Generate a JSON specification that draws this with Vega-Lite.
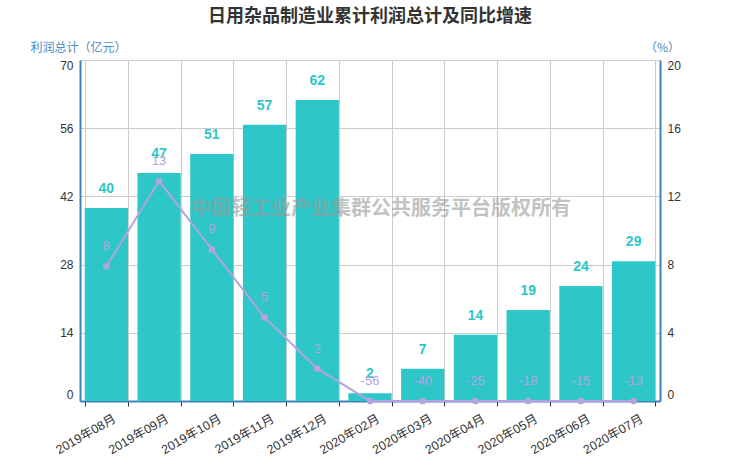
{
  "$schema": "https://vega.github.io/schema/vega-lite/v6.json",
  "width": 580,
  "height": 341,
  "autosize": {"type": "none"},
  "padding": {"left": 80, "top": 60, "right": 80, "bottom": 61},
  "title": {
    "text": "日用杂品制造业累计利润总计及同比增速",
    "fontSize": 18,
    "fontWeight": "bold",
    "color": "#333333",
    "anchor": "middle",
    "offset": 15
  },
  "config": {
    "font": "Noto Sans CJK SC",
    "view": {"stroke": null}
  },
  "data": {
    "values": [
      {"month": "2019年08月", "profit": 39.6, "growth": 7.9},
      {"month": "2019年09月", "profit": 46.8, "growth": 12.9},
      {"month": "2019年10月", "profit": 50.7, "growth": 8.9},
      {"month": "2019年11月", "profit": 56.7, "growth": 4.9},
      {"month": "2019年12月", "profit": 61.8, "growth": 1.9},
      {"month": "2020年02月", "profit": 1.6, "growth": -56.2},
      {"month": "2020年03月", "profit": 6.6, "growth": -40.3},
      {"month": "2020年04月", "profit": 13.6, "growth": -25.1},
      {"month": "2020年05月", "profit": 18.7, "growth": -18.2},
      {"month": "2020年06月", "profit": 23.6, "growth": -15.3},
      {"month": "2020年07月", "profit": 28.7, "growth": -13.4}
    ]
  },
  "encoding": {
    "x": {
      "field": "month",
      "type": "nominal",
      "sort": null,
      "scale": {"paddingInner": 0.18, "paddingOuter": 0.09},
      "axis": {
        "title": null,
        "labelAngle": -30,
        "labelColor": "#333333",
        "labelFont": "Liberation Sans, Noto Sans CJK SC",
        "labelFontSize": 12.5,
        "labelPadding": 6,
        "labelOffset": 5,
        "grid": true,
        "gridColor": "#cccccc",
        "tickBand": "extent",
        "tickColor": "#333333",
        "tickSize": 5,
        "domainColor": "#3D84BF",
        "domainWidth": 2
      }
    }
  },
  "layer": [
    {
      "encoding": {
        "y": {
          "field": "profit",
          "type": "quantitative",
          "scale": {"domain": [0, 70]},
          "axis": {
            "title": "利润总计（亿元）",
            "titleAngle": 0,
            "titleAlign": "center",
            "titleBaseline": "middle",
            "titleX": -2,
            "titleY": -13,
            "titleColor": "#4A8BC2",
            "titleFontWeight": "normal",
            "titleFontSize": 12,
            "values": [0, 14, 28, 42, 56, 70],
            "grid": true,
            "gridColor": "#cccccc",
            "ticks": false,
            "labelFlush": true,
            "labelColor": "#333333",
            "labelFont": "Liberation Sans",
            "labelFontSize": 12,
            "labelPadding": 7,
            "domainColor": "#3D84BF",
            "domainWidth": 2
          }
        }
      },
      "layer": [
        {"mark": {"type": "bar", "color": "#2EC7C9"}},
        {
          "mark": {
            "type": "text",
            "color": "#2EC7C9",
            "fontSize": 14,
            "fontWeight": "bold",
            "font": "Liberation Sans",
            "dy": -19
          },
          "encoding": {"text": {"field": "profit", "type": "quantitative", "format": ".0f"}}
        }
      ]
    },
    {
      "transform": [{"calculate": "'' + round(datum.growth)", "as": "growth_label"}],
      "encoding": {
        "y": {
          "field": "growth",
          "type": "quantitative",
          "scale": {"domain": [0, 20], "clamp": true},
          "axis": {
            "orient": "right",
            "title": "（%）",
            "titleAngle": 0,
            "titleAlign": "center",
            "titleBaseline": "middle",
            "titleX": 2,
            "titleY": -13,
            "titleColor": "#4A8BC2",
            "titleFontWeight": "normal",
            "titleFontSize": 12,
            "values": [0, 4, 8, 12, 16, 20],
            "grid": false,
            "ticks": false,
            "labelFlush": true,
            "labelColor": "#333333",
            "labelFont": "Liberation Sans",
            "labelFontSize": 12,
            "labelPadding": 7,
            "domainColor": "#3D84BF",
            "domainWidth": 2
          }
        }
      },
      "layer": [
        {"mark": {"type": "line", "color": "#B6A2DE", "strokeWidth": 2}},
        {"mark": {"type": "point", "filled": true, "opacity": 1, "color": "#B6A2DE", "size": 45}},
        {
          "mark": {"type": "text", "color": "#B6A2DE", "fontSize": 13, "font": "Liberation Sans", "dy": -20},
          "encoding": {"text": {"field": "growth_label", "type": "nominal"}}
        }
      ]
    },
    {
      "data": {"values": [{"note": "中国轻工业产业集群公共服务平台版权所有"}]},
      "mark": {
        "type": "text",
        "fontSize": 20,
        "fontWeight": "bold",
        "color": "#9a9a9a",
        "opacity": 0.6,
        "dx": 11
      },
      "encoding": {
        "x": {"datum": "2020年02月"},
        "y": {"datum": 39.4, "scale": {"domain": [0, 70]}, "axis": null},
        "text": {"field": "note"}
      }
    }
  ],
  "resolve": {"scale": {"y": "independent"}}
}
